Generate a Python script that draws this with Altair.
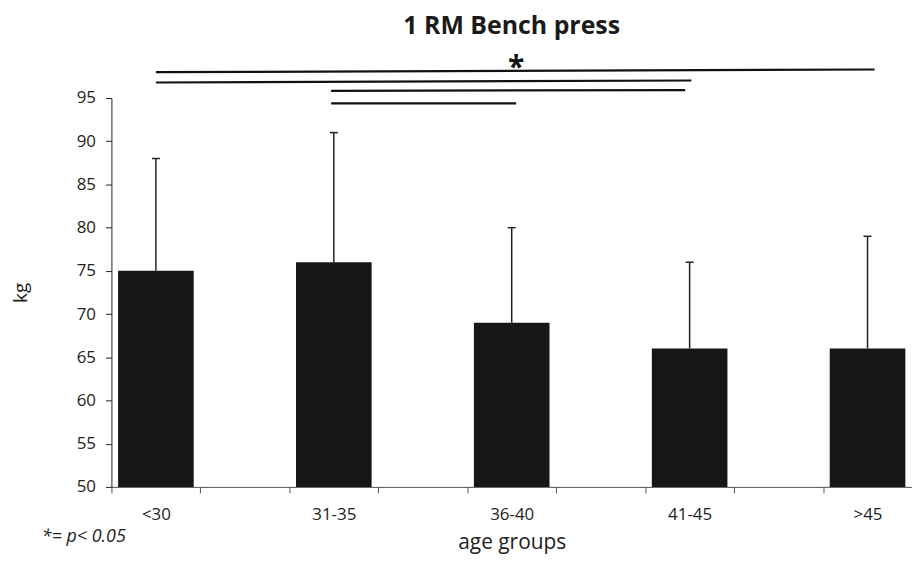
import json
import altair as alt
import pandas as pd

# ---- data ----
groups = ["<30", "31-35", "36-40", "41-45", ">45"]
means = [75, 76, 69, 66, 66]
sd = [13, 15, 11, 10, 13]

# significance bars (x in category-slot units: group i is centred at 2*i + 0.5; y in kg)
sig_x1 = [0.5, 0.5, 2.47, 2.47]
sig_x2 = [8.58, 6.52, 6.45, 4.55]
sig_y1 = [97.99, 96.80, 95.83, 94.39]
sig_y2 = [98.30, 97.03, 95.92, 94.39]
star_x = [4.55]
star_y = [99.33]

FONT = "Open Sans"
N_SLOTS = 2 * len(groups) - 1
W, H = 805, 391

bars = pd.DataFrame({"group": groups, "mean": means, "sd": sd,
                     "pos": [2 * i + 0.5 for i in range(len(groups))]})
sig = pd.DataFrame({"x1": sig_x1, "x2": sig_x2, "y1": sig_y1, "y2": sig_y2})
star = pd.DataFrame({"x": star_x, "y": star_y, "t": ["*"]})

label_expr = ("(datum.value % 2 == 0 && datum.value < " + str(N_SLOTS) + ") ? "
              + json.dumps(groups) + "[datum.value / 2] : ''")

xscale = alt.Scale(domain=[0, N_SLOTS], nice=False, zero=False)
xaxis = alt.Axis(title="age groups", values=list(range(N_SLOTS + 1)), labelExpr=label_expr,
                 labelOffset=W / N_SLOTS / 2, labelOverlap=False, labelFlush=False, labelBound=False,
                 labelAngle=0, tickSize=6, labelPadding=14, grid=False,
                 domainColor="#555555", tickColor="#555555", labelColor="#222222",
                 labelFontSize=17, titleFontSize=21, titleFontWeight="normal",
                 titlePadding=9, labelFont=FONT, titleFont=FONT, titleColor="#222222")
yscale = alt.Scale(domain=[50, 95], nice=False, zero=False)
yaxis = alt.Axis(title="kg", values=list(range(50, 96, 5)), tickSize=6, labelPadding=10,
                 domainColor="#222222", tickColor="#222222", labelColor="#222222",
                 labelFontSize=17, titleFontSize=19, titleFontWeight="normal",
                 titlePadding=46, labelFont=FONT, titleFont=FONT, titleColor="#222222", grid=False)


def X(field):
    return alt.X(field, type="quantitative", scale=xscale, axis=xaxis)


def Y(field):
    return alt.Y(field, type="quantitative", scale=yscale, axis=yaxis)


base = alt.Chart(bars).transform_calculate(
    xl="datum.pos - 0.425", xr="datum.pos + 0.425",
    cl="datum.pos - 0.045", cr="datum.pos + 0.045",
    top="datum.mean + datum.sd")

bar_layer = base.mark_bar(color="#161616").encode(
    x=X("xl"), x2="xr:Q", y=Y("mean"), y2=alt.datum(50))
err_layer = base.mark_rule(color="#222222", strokeWidth=1.5).encode(
    x=X("pos"), y=Y("mean"), y2="top:Q")
cap_layer = base.mark_rule(color="#222222", strokeWidth=1.5).encode(
    x=X("cl"), x2="cr:Q", y=Y("top"))

sig_layer = alt.Chart(sig).mark_rule(color="#111111", strokeWidth=2.2).encode(
    x=X("x1"), x2="x2:Q", y=Y("y1"), y2="y2:Q")
star_layer = alt.Chart(star).mark_text(font=FONT, fontSize=30, fontWeight="bold", color="#111111",
                                       baseline="alphabetic", dy=16).encode(
    x=X("x"), y=Y("y"), text="t:N")
note_layer = alt.Chart(star).mark_text(font=FONT, fontSize=18, fontStyle="italic", color="#222222",
                                       align="left", baseline="middle").encode(
    x=alt.value(-70), y=alt.value(441), text=alt.value("*= p< 0.05"))

chart = alt.layer(bar_layer, err_layer, cap_layer, sig_layer, star_layer, note_layer).properties(
    width=W, height=H,
    title=alt.TitleParams("1 RM Bench press", font=FONT, fontSize=25, fontWeight="bold",
                          color="#1a1a1a", anchor="middle", offset=14),
    autosize=alt.AutoSizeParams(type="none"),
    padding={"left": 104, "top": 89, "right": 0, "bottom": 72},
    background="white",
).configure_view(strokeWidth=0)

chart.save("out.html", embed_options={"renderer": "svg", "actions": False})
